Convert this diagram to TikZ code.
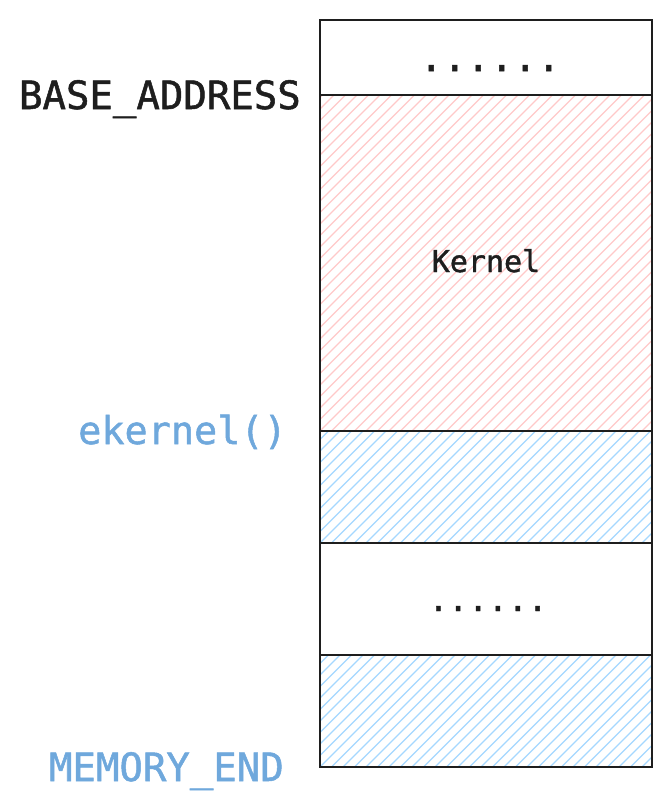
\documentclass[tikz,border=0pt]{standalone}
\usepackage{fontspec}
\newfontfamily\codefont[FakeBold=1.3]{DejaVu Sans Mono}
\definecolor{ink}{HTML}{1E1E1E}
\definecolor{hatchred}{HTML}{FFC9C9}
\definecolor{hatchblue}{HTML}{A5D8FF}
\definecolor{addrblue}{RGB}{111,168,220}

\begin{document}
\begin{tikzpicture}[x=1pt,y=-1pt]
  \tikzset{
    cell/.style={
      draw=ink,
      line width=2.6pt,
      rectangle,
      fill=white,
      minimum width=332pt,
      inner sep=0pt,
      outer sep=0pt
    },
    hatched/.style={
      path picture={
        \foreach \k in {-32,...,32}
          \draw[#1, line width=1.1pt] ([xshift=\k*11.5pt]path picture bounding box.south west) -- ++(360pt,360pt);
      }
    },
    addr/.style={
      font=\codefont\fontsize{39}{45}\selectfont,
      anchor=base east,
      inner sep=0pt
    },
    inlabel/.style={
      font=\codefont\fontsize{#1}{#1}\selectfont,
      text=ink,
      anchor=base,
      inner sep=0pt
    }
  }
  \useasboundingbox (0,0) rectangle (672,809);

  % Memory cells, top to bottom
  \node[cell, minimum height=75pt] (top) at (486,57.5) {};
  \node[cell, minimum height=336pt, hatched=hatchred] (kernel) at (486,263) {};
  \node[cell, minimum height=112pt, hatched=hatchblue] (ekern) at (486,487) {};
  \node[cell, minimum height=112pt] (gap) at (486,599) {};
  \node[cell, minimum height=112pt, hatched=hatchblue] (tail) at (486,711) {};

  % Text inside the cells
  \node[inlabel=39] (dotsA) at (490,71) {......};
  \node[inlabel=30] (klabel) at (486,272) {Kernel};
  \node[inlabel=33] (dotsB) at (488,611) {......};

  % Addresses on the left
  \node[addr, text=ink] (base) at (301,109) {BASE\_ADDRESS};
  \node[addr, text=addrblue, font=\codefont\fontsize{38.5}{44}\selectfont] (ekend) at (287,444) {ekernel()};
  \node[addr, text=addrblue] (memend) at (284,781) {MEMORY\_END};
\end{tikzpicture}
\end{document}
